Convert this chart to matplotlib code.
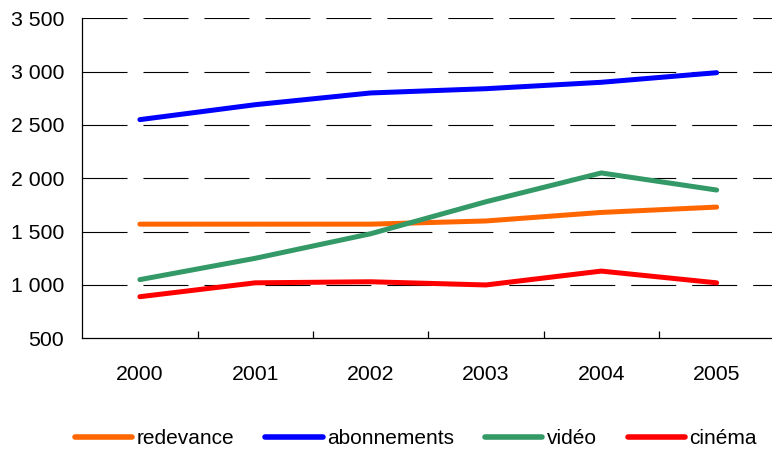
import matplotlib
matplotlib.use("Agg")
import matplotlib.pyplot as plt
from matplotlib.ticker import FixedLocator, FuncFormatter

years = ["2000", "2001", "2002", "2003", "2004", "2005"]
redevance = [1570, 1570, 1570, 1600, 1680, 1730]
abonnements = [2550, 2690, 2800, 2840, 2900, 2990]
video = [1050, 1250, 1480, 1780, 2050, 1890]
cinema = [890, 1020, 1030, 1000, 1130, 1020]

series = [
    ("redevance", redevance, "#FF6600"),
    ("abonnements", abonnements, "#0000FF"),
    ("vidéo", video, "#339966"),
    ("cinéma", cinema, "#FF0000"),
]

main_font = "Liberation Sans"
plt.rcParams["font.family"] = [main_font, "DejaVu Sans"]
plt.rcParams["lines.scale_dashes"] = False

fig = plt.figure(figsize=(7.72, 4.55), dpi=100)
ax = fig.add_axes([0.1065, 0.2565, 0.8935, 0.7033])

x = list(range(len(years)))
for name, vals, col in series:
    ax.plot(x, vals, color=col, lw=3.6, label=name, solid_capstyle="round", zorder=3)

ax.set_xlim(-0.5, 5.48)
ax.set_ylim(500, 3500)

for yv in [1000, 1500, 2000, 2500, 3000, 3500]:
    ax.axhline(yv, color="black", lw=0.8, dashes=(32.4, 11.5), zorder=1)

ax.spines["top"].set_visible(False)
ax.spines["right"].set_visible(False)
ax.spines["left"].set_linewidth(0.9)
ax.spines["bottom"].set_linewidth(0.9)

ax.set_yticks([500, 1000, 1500, 2000, 2500, 3000, 3500])
ax.yaxis.set_major_formatter(FuncFormatter(lambda v, p: f"{int(v):,}".replace(",", " ")))
ax.tick_params(axis="y", length=0, pad=13, labelsize=15.3)

ax.set_xticks(x)
ax.set_xticklabels(years)
ax.tick_params(axis="x", which="major", length=0, pad=19, labelsize=15.3)
ax.xaxis.set_minor_locator(FixedLocator([0.5, 1.5, 2.5, 3.5, 4.5]))
ax.tick_params(axis="x", which="minor", direction="in", length=5, width=0.9)

leg = fig.legend(loc="center left", bbox_to_anchor=(75 / 772, 1 - 439 / 455), ncol=4,
                 frameon=False, handlelength=2.75, handletextpad=0.2, columnspacing=1.5,
                 borderaxespad=0, borderpad=0,
                 prop={"family": main_font, "size": 15})
for h in leg.get_lines():
    h.set_linewidth(4)

fig.savefig("out.png", dpi=100)
